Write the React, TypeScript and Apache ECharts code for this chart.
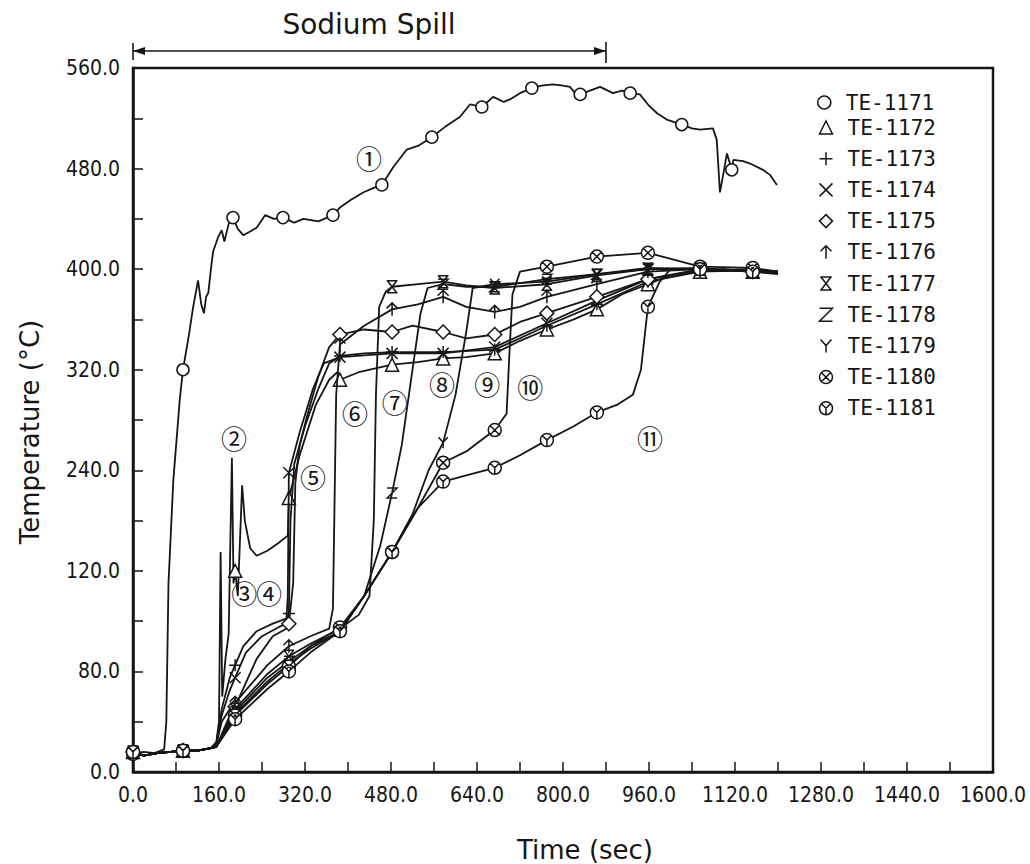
import React, { useEffect, useRef } from 'react';
import * as echarts from 'echarts';

const xTickLabels = ['0.0', '160.0', '320.0', '480.0', '640.0', '800.0', '960.0', '1120.0', '1280.0', '1440.0', '1600.0'];
const yTickLabels = ['0.0', '80.0', '120.0', '240.0', '320.0', '400.0', '480.0', '560.0'];
const seriesNames = ['TE-1171', 'TE-1172', 'TE-1173', 'TE-1174', 'TE-1175', 'TE-1176', 'TE-1177', 'TE-1178', 'TE-1179', 'TE-1180', 'TE-1181'];

const te1171 = [[0,14],[20,16],[40,15],[58,18],[62,40],[66,150],[75,232],[87,296],[93,320],[103,345],[112,370],[121,391],[127,372],[132,365],[136,378],[140,381],[145,400],[149,414],[158,425],[165,431],[170,422],[178,436],[186,441],[195,432],[205,427],[218,430],[230,433],[246,443],[262,440],[279,441],[300,437],[317,440],[345,438],[372,443],[385,449],[405,455],[428,461],[450,465],[463,467],[484,481],[509,495],[530,498],[556,505],[580,513],[608,521],[627,531],[649,529],[670,537],[690,533],[701,535],[720,540],[742,544],[760,546],[781,547],[800,546],[813,545],[828,537],[832,539],[850,542],[869,545],[893,540],[910,542],[925,540],[943,539],[960,530],[975,524],[993,519],[1021,515],[1040,512],[1055,511],[1079,512],[1086,503],[1092,461],[1098,475],[1105,492],[1114,479],[1117,487],[1135,486],[1148,484],[1172,479],[1185,475],[1198,467]];
const te1172 = [[0,16],[20,13],[45,15],[70,16],[93,17],[120,17],[145,19],[155,24],[160,40],[163,175],[166,60],[172,90],[178,110],[184,250],[187,150],[190,160],[195,140],[203,228],[208,200],[218,178],[230,172],[250,176],[270,182],[288,188],[290,218],[310,252],[340,292],[365,312],[380,318],[385,312],[420,318],[482,324],[530,326],[577,329],[620,330],[673,333],[720,343],[770,352],[820,360],[863,368],[910,380],[958,388],[1000,395],[1055,398],[1100,400],[1153,398],[1200,398]];
const te1173 = [[0,16],[20,13],[45,15],[70,16],[93,17],[120,17],[145,19],[155,22],[165,50],[180,75],[190,85],[205,100],[230,112],[260,118],[285,122],[290,126],[293,200],[300,245],[320,275],[345,305],[365,325],[385,331],[430,333],[482,334],[530,334],[577,334],[673,336],[720,345],[770,355],[863,372],[958,390],[1055,398],[1153,399],[1200,397]];
const te1174 = [[0,16],[20,13],[45,15],[70,16],[93,17],[120,17],[145,19],[155,22],[165,45],[180,65],[190,75],[210,95],[240,108],[270,115],[285,118],[288,140],[290,238],[310,270],[335,305],[355,325],[385,330],[482,333],[577,333],[673,338],[770,357],[863,375],[958,392],[1055,399],[1153,400],[1200,398]];
const te1175 = [[0,16],[20,13],[45,15],[70,16],[93,17],[120,17],[145,19],[155,22],[165,40],[180,50],[190,52],[230,90],[260,108],[285,114],[290,118],[298,150],[302,230],[310,260],[325,285],[345,315],[365,338],[385,348],[430,352],[482,350],[520,355],[577,350],[620,345],[673,348],[720,358],[770,365],[863,378],[958,392],[1055,400],[1153,398],[1200,398]];
const te1176 = [[0,16],[20,13],[45,15],[70,16],[93,17],[120,17],[145,19],[155,20],[170,35],[190,55],[250,85],[290,100],[330,108],[365,114],[372,130],[378,300],[385,340],[430,355],[482,368],[530,372],[577,378],[620,370],[673,366],[720,370],[770,378],[863,388],[958,398],[1055,400],[1153,399],[1200,398]];
const te1177 = [[0,16],[20,13],[45,15],[70,16],[93,17],[120,17],[145,19],[155,20],[170,33],[190,50],[250,78],[290,92],[330,102],[385,114],[420,125],[440,140],[448,200],[452,300],[458,370],[470,382],[482,386],[530,388],[577,390],[620,387],[673,385],[770,388],[863,395],[958,400],[1055,400],[1153,398],[1200,398]];
const te1178 = [[0,16],[20,13],[45,15],[70,16],[93,17],[120,17],[145,19],[155,20],[170,32],[190,48],[250,75],[290,88],[330,100],[385,112],[430,140],[460,180],[482,222],[500,260],[520,320],[535,365],[548,385],[577,388],[620,386],[673,386],[770,392],[863,396],[958,400],[1055,401],[1153,398],[1200,397]];
const te1179 = [[0,16],[20,13],[45,15],[70,16],[93,17],[120,17],[145,19],[155,20],[190,46],[250,72],[290,86],[330,98],[385,112],[430,140],[482,175],[520,205],[550,240],[577,262],[600,300],[620,350],[632,385],[673,388],[770,390],[863,396],[958,401],[1055,400],[1153,398],[1200,397]];
const te1180 = [[0,16],[20,13],[45,15],[70,16],[93,17],[120,17],[145,19],[155,20],[190,45],[250,70],[290,84],[330,100],[385,115],[430,140],[482,175],[530,210],[577,246],[620,255],[673,272],[695,285],[700,330],[706,380],[720,398],[770,402],[863,410],[958,413],[1055,402],[1153,401],[1200,398]];
const te1181 = [[0,16],[20,13],[45,15],[70,16],[93,17],[120,17],[145,19],[155,20],[190,42],[250,66],[290,80],[330,95],[385,112],[430,140],[482,175],[530,210],[577,231],[620,236],[673,242],[720,252],[770,264],[820,275],[863,286],[900,292],[930,300],[945,320],[958,370],[980,390],[1000,400],[1055,400],[1153,398],[1200,396]];

const te1171Marks = [0, 93, 186, 279, 372, 463, 556, 649, 742, 832, 925, 1021, 1114];
const lowerMarks = [0, 93, 190, 290, 385, 482, 577, 673, 770, 863, 958, 1055, 1153];

const annotationLabels = ['①', '②', '③', '④', '⑤', '⑥', '⑦', '⑧', '⑨', '⑩', '⑪'];
const annotationTimes = [439, 188, 207, 253, 335, 413, 487, 575, 659, 739, 962];
const annotationTemps = [489, 266, 143, 143, 235, 286, 295, 309, 309, 307, 266];

const spillStart = 0;
const spillEnd = 880;

const SYM = {
  plus: 'path://M10,0L10,20M0,10L20,10',
  cross: 'path://M1,1L19,19M19,1L1,19',
  arrow: 'path://M2,9L10,1L18,9M10,1L10,20',
  hourglass: 'path://M2,1L18,1M2,19L18,19M3,1L17,19M17,1L3,19',
  zed: 'path://M3,3L17,3L3,17L17,17',
  why: 'path://M2,1L10,10L18,1M10,10L10,20',
  circX: 'path://M20,10A10,10,0,1,1,0,10A10,10,0,1,1,20,10ZM2.9,2.9L17.1,17.1M17.1,2.9L2.9,17.1',
  circY: 'path://M20,10A10,10,0,1,1,0,10A10,10,0,1,1,20,10ZM2.9,2.9L10,10L17.1,2.9M10,10L10,20',
};

const curves = [te1171, te1172, te1173, te1174, te1175, te1176, te1177, te1178, te1179, te1180, te1181];
const markTimes = [te1171Marks, lowerMarks, lowerMarks, lowerMarks, lowerMarks, lowerMarks, lowerMarks, lowerMarks, lowerMarks, lowerMarks, lowerMarks];
const symbols = ['circle', 'triangle', SYM.plus, SYM.cross, 'diamond', SYM.arrow, SYM.hourglass, SYM.zed, SYM.why, SYM.circX, SYM.circY];
const symbolSizes = [12, 13, 12, 11, 14, 13, 12, 10, 11, 13, 13];
const fills = ['#fff', '#fff', 'none', 'none', '#fff', 'none', 'none', 'none', 'none', '#fff', '#fff'];

const INK = '#161616';
const TICK_FONT = '"Liberation Sans Narrow", "DejaVu Sans Condensed", "Liberation Sans", sans-serif';

export default function App() {
  const ref = useRef<HTMLDivElement>(null);
  useEffect(() => {
    const chart = echarts.init(ref.current as HTMLDivElement, null, { renderer: 'svg' });
    const series = curves.map((d, i) => ({
      type: 'line',
      name: seriesNames[i],
      data: d,
      showSymbol: true,
      showAllSymbol: true,
      symbol: (v: number[]) => (markTimes[i].includes(v[0]) ? symbols[i] : 'none'),
      symbolSize: symbolSizes[i],
      symbolKeepAspect: true,
      lineStyle: { color: INK, width: 1.8 },
      itemStyle: { color: fills[i], borderColor: INK, borderWidth: 1.5 },
      emphasis: { disabled: true },
      silent: true,
      z: 3 + i,
    }));
    const legendStyle = {
      orient: 'vertical',
      left: 817,
      itemWidth: 13,
      itemHeight: 13,
      padding: 0,
      itemGap: 10.2,
      selectedMode: false,
      itemStyle: { borderWidth: 1.5 },
      textStyle: { fontFamily: 'DejaVu Sans Mono', fontSize: 21, color: INK, padding: [0, 0, 0, 10] },
    };
    chart.setOption({
      animation: false,
      backgroundColor: '#fff',
      grid: { left: 133, top: 68, right: 37, bottom: 92, show: true, borderColor: INK, borderWidth: 2.5, backgroundColor: 'transparent' },
      xAxis: {
        type: 'value', min: 0, max: 1600, interval: 160,
        axisLine: { lineStyle: { color: INK, width: 2.5 } },
        axisTick: { inside: true, length: 10, lineStyle: { color: INK, width: 1.5 } },
        minorTick: { show: true, splitNumber: 2, length: 10, lineStyle: { color: INK, width: 1.5 } },
        splitLine: { show: false },
        axisLabel: {
          margin: 12, color: INK, fontFamily: TICK_FONT, fontSize: 21,
          formatter: (v: number) => xTickLabels[Math.round(v / 160)] ?? '',
        },
      },
      yAxis: {
        type: 'value', min: 0, max: 560, interval: 80,
        axisLine: { show: true, lineStyle: { color: INK, width: 2.5 } },
        axisTick: { show: true, inside: true, length: 10, lineStyle: { color: INK, width: 1.5 } },
        minorTick: { show: true, splitNumber: 2, length: 10, lineStyle: { color: INK, width: 1.5 } },
        splitLine: { show: false },
        axisLabel: {
          margin: 13, color: INK, fontFamily: TICK_FONT, fontSize: 21,
          formatter: (v: number) => yTickLabels[Math.round(v / 80)] ?? '',
        },
      },
      legend: [
        { ...legendStyle, top: 92, data: [{ name: seriesNames[0], icon: symbols[0] }] },
        { ...legendStyle, top: 117, data: seriesNames.slice(1).map((n, k) => ({ name: n, icon: symbols[k + 1] })) },
      ],
      series,
    });

    const px = (t: number, T: number) => chart.convertToPixel({ xAxisIndex: 0, yAxisIndex: 0 }, [t, T]) as number[];
    const [sx0] = px(spillStart, 0);
    const [sx1] = px(spillEnd, 0);
    const ay = 51;
    const graphic: any[] = [
      { type: 'text', x: 369, y: 24, style: { text: 'Sodium Spill', fontFamily: 'DejaVu Sans', fontSize: 28, fill: INK, align: 'center', verticalAlign: 'middle' } },
      { type: 'line', shape: { x1: sx0, y1: ay, x2: sx1, y2: ay }, style: { stroke: INK, lineWidth: 1.6 } },
      { type: 'line', shape: { x1: sx0, y1: ay - 8, x2: sx0, y2: ay + 9 }, style: { stroke: INK, lineWidth: 1.6 } },
      { type: 'line', shape: { x1: sx1, y1: ay - 9, x2: sx1, y2: ay + 12 }, style: { stroke: INK, lineWidth: 1.6 } },
      { type: 'polygon', shape: { points: [[sx0, ay], [sx0 + 12, ay - 4], [sx0 + 12, ay + 4]] }, style: { fill: INK } },
      { type: 'polygon', shape: { points: [[sx1, ay], [sx1 - 12, ay - 4], [sx1 - 12, ay + 4]] }, style: { fill: INK } },
      { type: 'text', x: 30, y: 432, rotation: Math.PI / 2, style: { text: 'Temperature (°C)', fontFamily: 'DejaVu Sans', fontSize: 26, fill: INK, align: 'center', verticalAlign: 'middle' } },
      { type: 'text', x: 585, y: 850, style: { text: 'Time (sec)', fontFamily: 'DejaVu Sans', fontSize: 26, fill: INK, align: 'center', verticalAlign: 'middle' } },
    ];
    annotationLabels.forEach((lab, i) => {
      const [x, y] = px(annotationTimes[i], annotationTemps[i]);
      graphic.push({ type: 'text', x, y, z: 20, style: { text: lab, fontFamily: 'Noto Sans CJK JP', fontSize: 26, fill: INK, align: 'center', verticalAlign: 'middle' } });
    });
    chart.setOption({ graphic });
    return () => chart.dispose();
  }, []);
  return <div ref={ref} style={{ position: 'fixed', left: 0, top: 0, width: 1030, height: 864, background: '#fff' }} />;
}
